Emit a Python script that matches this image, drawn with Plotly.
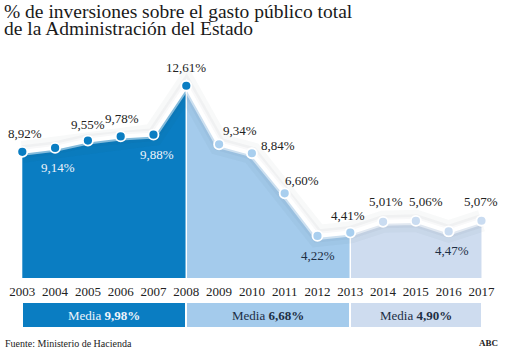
import plotly.graph_objects as go

# ---------------- data ----------------
years = list(range(2003, 2018))
values = [8.92, 9.14, 9.55, 9.78, 9.88, 12.61, 9.34, 8.84, 6.60, 4.22, 4.41, 5.01, 5.06, 4.47, 5.07]
value_labels = ["8,92%", "9,14%", "9,55%", "9,78%", "9,88%", "12,61%", "9,34%", "8,84%",
                "6,60%", "4,22%", "4,41%", "5,01%", "5,06%", "4,47%", "5,07%"]
period_starts = [2003, 2008, 2013]
period_ends = [2008, 2013, 2017]
period_means = ["9,98%", "6,68%", "4,90%"]
title_lines = ["% de inversiones sobre el gasto público total", "de la Administración del Estado"]
source_text = "Fuente: Ministerio de Hacienda"
brand_text = "ABC"

# ---------------- styles ----------------
W, H = 510, 349
SERIF = "Liberation Serif"
period_fill = ["#0a7dc2", "#a4cbec", "#cedcef"]
period_text = ["#eef4fb", "#1d2f45", "#1d2f45"]
marker_cols = ["#0a7dc2"] * 6 + ["#a9cfef"] * 5 + ["#cadcf1"] * 4
label_cols = ["#222222", "#eef4fb", "#222222", "#222222", "#eef4fb", "#222222", "#222222", "#222222",
              "#222222", "#1d2f45", "#222222", "#222222", "#222222", "#1d2f45", "#222222"]
label_dx = [3, 3, 0, 1, 4, 0, 21, 26, 17, 1, -2, 3, 10, 3, 0]
label_dy = [18, -20, 16, 18, -20, 18, 14, 8, 13, -20, 17, 20, 19, -19, 19]

y_lo, y_hi = 1.87, 14.05
x_lo, x_hi = 2002.32, 2017.87

def py(px):
    return 1 - px / H

fig = go.Figure()

# areas
for s, e, col in zip(period_starts, period_ends, period_fill):
    xs = [y for y in years if s <= y <= e]
    vs = [values[years.index(y)] for y in xs]
    fig.add_trace(go.Scatter(x=xs, y=vs, mode="lines", line=dict(width=0),
                             fill="tozeroy", fillcolor=col, hoverinfo="skip", showlegend=False))

# separators between periods
for e in period_ends[:-1]:
    fig.add_trace(go.Scatter(x=[e, e], y=[y_lo, values[years.index(e)]], mode="lines",
                             line=dict(color="white", width=1.5), hoverinfo="skip", showlegend=False))

# soft glow of the line
fig.add_trace(go.Scatter(x=years, y=values, mode="lines", line=dict(color="rgba(40,50,70,0.03)", width=22),
                         hoverinfo="skip", showlegend=False))
fig.add_trace(go.Scatter(x=years, y=values, mode="lines", line=dict(color="rgba(40,50,70,0.04)", width=13),
                         hoverinfo="skip", showlegend=False))
fig.add_trace(go.Scatter(x=years, y=values, mode="lines", line=dict(color="rgba(255,255,255,0.5)", width=8),
                         hoverinfo="skip", showlegend=False))
# white line + markers
fig.add_trace(go.Scatter(x=years, y=values, mode="lines+markers",
                         line=dict(color="white", width=4),
                         marker=dict(size=10, color=marker_cols, line=dict(color="white", width=1.8)),
                         cliponaxis=False, hoverinfo="skip", showlegend=False))

# value labels
for x, v, t, c, dx, dy in zip(years, values, value_labels, label_cols, label_dx, label_dy):
    fig.add_annotation(x=x, y=v, xref="x", yref="y", text=t, showarrow=False,
                       xshift=dx, yshift=dy, font=dict(family=SERIF, size=13, color=c))

# bottom bands (on second y axis)
gap = 0.05
fig.add_trace(go.Bar(x=[(s + e) / 2 for s, e in zip(period_starts, period_ends)], y=[1, 1, 1],
                     width=[(e - s) - gap for s, e in zip(period_starts, period_ends)],
                     marker=dict(color=period_fill, line=dict(width=0)),
                     yaxis="y2", hoverinfo="skip", showlegend=False))
for s, e, m, c in zip(period_starts, period_ends, period_means, period_text):
    fig.add_annotation(x=(s + e) / 2, y=0.5, xref="x", yref="y2", text=f"Media <b>{m}</b>",
                       showarrow=False, font=dict(family=SERIF, size=13, color=c))

# title
fig.add_annotation(x=3 / W, y=py(11), xref="paper", yref="paper", xanchor="left", yanchor="middle",
                   text=title_lines[0], showarrow=False, borderpad=0,
                   font=dict(family=SERIF, size=19.5, color="#1a1a1a"))
fig.add_annotation(x=3 / W, y=py(28.5), xref="paper", yref="paper", xanchor="left", yanchor="middle",
                   text=title_lines[1], showarrow=False, borderpad=0,
                   font=dict(family=SERIF, size=19.5, color="#1a1a1a"))
# footer
fig.add_annotation(x=3 / W, y=py(343), xref="paper", yref="paper", xanchor="left", yanchor="middle",
                   text=source_text, showarrow=False, font=dict(family=SERIF, size=10, color="#222"))
fig.add_annotation(x=500 / W, y=py(343), xref="paper", yref="paper", xanchor="right", yanchor="middle",
                   text=f"<b>{brand_text}</b>", showarrow=False, font=dict(family=SERIF, size=9, color="#222"))

fig.update_layout(
    width=W, height=H, margin=dict(l=0, r=0, t=0, b=0),
    paper_bgcolor="white", plot_bgcolor="white", bargap=0,
    xaxis=dict(range=[x_lo, x_hi], tickvals=years, ticktext=[str(y) for y in years],
               showgrid=False, zeroline=False, showline=False, ticks="",
               ticklabelstandoff=4, tickfont=dict(family=SERIF, size=13, color="#222")),
    yaxis=dict(range=[y_lo, y_hi], domain=[py(278), py(60)], visible=False),
    yaxis2=dict(range=[0, 1], domain=[py(327), py(303)], visible=False, anchor="x"),
)

fig.write_html("out.html")
